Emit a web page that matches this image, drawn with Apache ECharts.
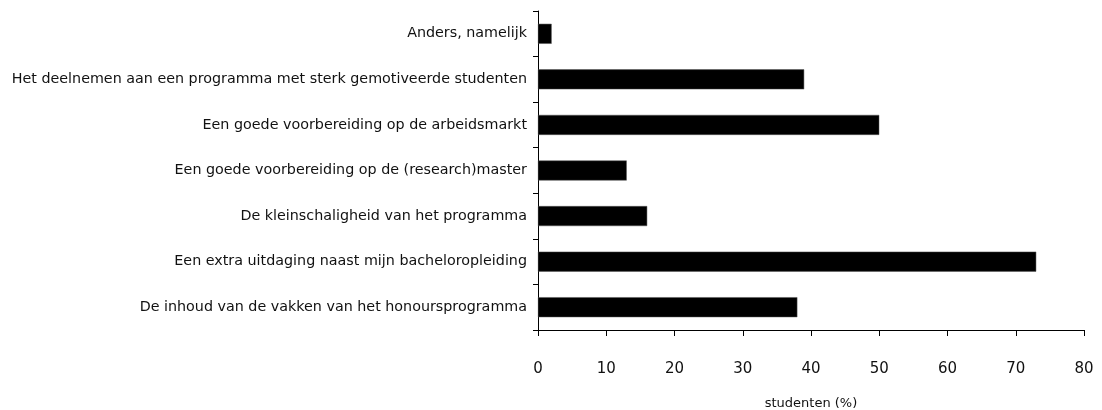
<!DOCTYPE html>
<html>
<head>
<meta charset="utf-8">
<script src="https://cdn.jsdelivr.net/npm/echarts@6/dist/echarts.min.js"></script>
<style>
  html, body { margin: 0; padding: 0; background: #fff; }
  #main { width: 1102px; height: 410px; }
</style>
</head>
<body>
<div id="main"></div>
<script>
// categories, top to bottom
var categories = [
  "Anders, namelijk",
  "Het deelnemen aan een programma met sterk gemotiveerde studenten",
  "Een goede voorbereiding op de arbeidsmarkt",
  "Een goede voorbereiding op de (research)master",
  "De kleinschaligheid van het programma",
  "Een extra uitdaging naast mijn bacheloropleiding",
  "De inhoud van de vakken van het honoursprogramma"
];
var values = [2, 39, 50, 13, 16, 73, 38];
var xTicks = [0, 10, 20, 30, 40, 50, 60, 70, 80];
var axisTitle = "studenten (%)";

var myChart = echarts.init(document.getElementById('main'));
myChart.setOption({
  animation: false,
  textStyle: { fontFamily: "DejaVu Sans", color: "#111" },
  grid: { left: 538, right: 18, top: 11, bottom: 80, containLabel: false, outerBoundsMode: 'none' },
  xAxis: {
    type: 'value',
    min: xTicks[0],
    max: xTicks[xTicks.length - 1],
    interval: 10,
    name: axisTitle,
    nameLocation: 'middle',
    nameGap: 67,
    nameTextStyle: { fontSize: 13, color: "#111", fontFamily: "DejaVu Sans" },
    axisLine: { show: true, lineStyle: { color: '#000', width: 1 } },
    axisTick: { show: true, inside: false, length: 6, lineStyle: { color: '#000' } },
    axisLabel: { margin: 32, fontSize: 15, color: '#111', fontFamily: "DejaVu Sans" },
    splitLine: { show: false }
  },
  yAxis: {
    type: 'category',
    inverse: true,
    data: categories,
    axisLine: { show: true, lineStyle: { color: '#000', width: 1 } },
    axisTick: { show: true, inside: false, length: 5, alignWithLabel: false, lineStyle: { color: '#000' } },
    axisLabel: { margin: 11, fontSize: 14.3, color: '#111', fontFamily: "DejaVu Sans" }
  },
  series: [
    {
      type: 'bar',
      data: values,
      barWidth: 20,
      itemStyle: { color: '#000', borderColor: '#555', borderWidth: 0.5 }
    }
  ]
});
</script>
</body>
</html>
